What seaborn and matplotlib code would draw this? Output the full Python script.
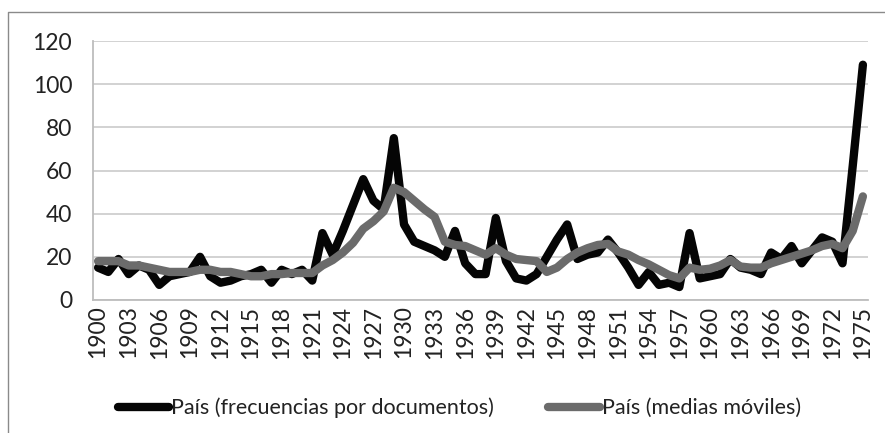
import matplotlib
matplotlib.use("Agg")
import matplotlib.pyplot as plt
import seaborn as sns
import pandas as pd
from matplotlib.lines import Line2D

years = list(range(1900, 1976))
frecuencias = [15, 13, 19, 12, 16, 14, 7, 11, 12, 13,
               20, 11, 8, 9, 11, 12, 14, 8, 14, 12,
               14, 9, 31, 21, 32, 44, 56, 46, 42, 75,
               35, 27, 25, 23, 20, 32, 17, 12, 12, 38,
               18, 10, 9, 12, 20, 28, 35, 19, 21, 22,
               28, 22, 15, 7, 13, 7, 8, 6, 31, 10,
               11, 12, 19, 15, 14, 12, 22, 19, 25, 17,
               23, 29, 27, 17, 62, 109]
medias = [18, 18, 18, 16, 16, 15, 14, 13, 13, 13,
          14, 14, 13, 13, 12, 11, 11, 12, 12, 12.5,
          12.5, 12.5, 16, 18.5, 22, 26.5, 33, 36.5, 41, 52,
          50, 46, 42, 38.5, 27, 25.5, 25, 23, 21, 24,
          21, 19, 18.5, 18, 13, 15, 19, 22, 24, 25.5,
          26, 22.5, 21, 18.5, 16.5, 14, 11.5, 10, 15, 14,
          14.5, 16, 18.5, 15.5, 15, 15, 17, 18.5, 20, 21.5,
          23, 25, 26, 24, 32, 48]
etiquetas = ["País (frecuencias por documentos)", "País (medias móviles)"]

df = pd.DataFrame({"anio": years, "frec": frecuencias, "media": medias})

sns.set_style("white")
plt.rcParams["font.family"] = ["Lato", "DejaVu Sans"]

fig = plt.figure(figsize=(8.85, 4.33), dpi=100)
ax = fig.add_axes([93 / 885, 1 - 300 / 433, 775 / 885, 259 / 433])

sns.lineplot(data=df, x="anio", y="frec", ax=ax, color="#050505", lw=6,
             label=etiquetas[0], solid_joinstyle="round", solid_capstyle="round")
sns.lineplot(data=df, x="anio", y="media", ax=ax, color="#6b6b6b", lw=6,
             label=etiquetas[1], solid_joinstyle="round", solid_capstyle="round")

ax.set_xlim(1899.5, 1975.5)
ax.set_ylim(0, 120)
ax.set_yticks(range(0, 121, 20))
ax.set_xticks(years[::3])
ax.set_xticklabels([str(y) for y in years[::3]], rotation=90)
ax.set_xlabel("")
ax.set_ylabel("")
ax.yaxis.grid(True, color="#cfcfcf", lw=1.3)
ax.set_axisbelow(True)
for s in ["top", "right"]:
    ax.spines[s].set_visible(False)
for s in ["left", "bottom"]:
    ax.spines[s].set_color("#bdbdbd")
    ax.spines[s].set_linewidth(1.3)
ax.tick_params(axis="y", length=0, pad=15, labelsize=16.5, labelcolor="#222222")
ax.tick_params(axis="x", length=0, pad=4, labelsize=16.5, labelcolor="#222222")

ax.get_legend().remove()
h, l = ax.get_legend_handles_labels()
fig.legend(h, l, loc="center", bbox_to_anchor=(0.519, 0.058), ncol=2,
           frameon=False, fontsize=15.5, handlelength=2.4, handletextpad=0.1,
           columnspacing=2.5, labelcolor="#222222")

# marco exterior (solo se ven el borde izquierdo y el superior)
x0 = 8 / 885
y0 = 1 - 12 / 433
fig.add_artist(Line2D([x0, x0, 1.0], [0.0, y0, y0], transform=fig.transFigure,
                      color="#8a8a8a", lw=1.0))

fig.savefig("out.png", dpi=100)
